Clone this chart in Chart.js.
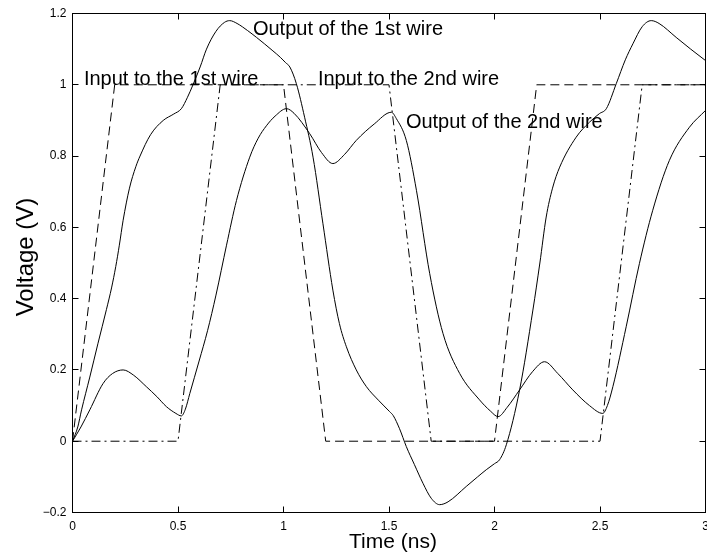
<!DOCTYPE html>
<html>
<head>
<meta charset="utf-8">
<title>Wire voltages</title>
<script src="https://cdn.jsdelivr.net/npm/chart.js@4.4.1/dist/chart.umd.min.js"></script>
<style>
  html, body { margin: 0; padding: 0; background: #fff; }
  #wrap { width: 707px; height: 557px; }
</style>
</head>
<body>
<div id="wrap"><canvas id="voltChart"></canvas></div>
<script>
// input pulses (trapezoids)
const input1Time = [0, 0.2, 1.0, 1.2, 2.0, 2.2, 3.0];
const input1Volt = [0, 1, 1, 0, 0, 1, 1];
const input2Time = [0, 0.5, 0.7, 1.5, 1.7, 2.5, 2.7, 3.0];
const input2Volt = [0, 0, 1, 1, 0, 0, 1, 1];

// wire outputs
const output1Time = [0, 0.025, 0.043, 0.082, 0.121, 0.161, 0.185, 0.205, 0.222, 0.24, 0.27, 0.3, 0.32, 0.37, 0.43, 0.48, 0.516,
  0.545, 0.571, 0.605, 0.635, 0.68, 0.72, 0.745, 0.78, 0.83, 0.872, 0.95, 0.985, 1.01, 1.03, 1.061,
  1.1, 1.14, 1.187, 1.234, 1.265, 1.298, 1.345, 1.393, 1.45, 1.503, 1.52, 1.55, 1.582, 1.62, 1.661,
  1.7, 1.74, 1.78, 1.866, 1.92, 1.961, 2.0, 2.024, 2.056, 2.119, 2.182, 2.215, 2.245, 2.275, 2.309,
  2.387, 2.45, 2.497, 2.53, 2.577, 2.62, 2.656, 2.7, 2.743, 2.78, 2.861, 2.93, 3.0];
const output1Volt = [0, 0.04, 0.088, 0.18, 0.275, 0.37, 0.43, 0.49, 0.55, 0.62, 0.71, 0.77, 0.8, 0.86, 0.9, 0.918, 0.933,
  0.965, 1.0, 1.05, 1.1, 1.15, 1.175, 1.18, 1.172, 1.152, 1.133, 1.095, 1.077, 1.062, 1.05, 1.003,
  0.909, 0.797, 0.61, 0.424, 0.33, 0.265, 0.2, 0.153, 0.115, 0.083, 0.072, 0.035, -0.015, -0.065, -0.118,
  -0.16, -0.178, -0.17, -0.127, -0.1, -0.08, -0.063, -0.052, -0.01, 0.144, 0.368, 0.5, 0.629, 0.71, 0.769,
  0.853, 0.895, 0.919, 0.933, 1.003, 1.07, 1.115, 1.163, 1.18, 1.172, 1.133, 1.1, 1.068];

const output2Time = [0, 0.04, 0.082, 0.145, 0.19, 0.24, 0.29, 0.35, 0.4, 0.445, 0.49, 0.516, 0.535,
  0.556, 0.6, 0.64, 0.68, 0.73, 0.777, 0.84, 0.88, 0.919, 0.96, 1.014, 1.05, 1.124, 1.18, 1.234,
  1.29, 1.345, 1.43, 1.511, 1.535, 1.582, 1.63, 1.693, 1.756, 1.835, 1.929, 1.98, 2.017, 2.06, 2.119,
  2.18, 2.237, 2.3, 2.371, 2.45, 2.513, 2.535, 2.561, 2.624, 2.687, 2.75, 2.829, 2.924, 3.0];
const output2Volt = [0, 0.04, 0.088, 0.162, 0.19, 0.2, 0.185, 0.153, 0.125, 0.097, 0.078, 0.071, 0.09,
  0.134, 0.225, 0.31, 0.41, 0.55, 0.675, 0.797, 0.85, 0.885, 0.912, 0.933, 0.92, 0.863, 0.81, 0.779,
  0.805, 0.844, 0.89, 0.923, 0.905, 0.844, 0.704, 0.47, 0.302, 0.19, 0.116, 0.085, 0.069, 0.095, 0.144,
  0.195, 0.223, 0.19, 0.144, 0.1, 0.078, 0.1, 0.153, 0.321, 0.499, 0.648, 0.788, 0.881, 0.928];

const xTicks = [0, 0.5, 1, 1.5, 2, 2.5, 3];
const xTickLabels = ['0', '0.5', '1', '1.5', '2', '2.5', '3'];
const yTicks = [-0.2, 0, 0.2, 0.4, 0.6, 0.8, 1, 1.2];
const yTickLabels = ['\u22120.2', '0', '0.2', '0.4', '0.6', '0.8', '1', '1.2'];

const notes = [
  { text: 'Output of the 1st wire', t: 0.855, v: 1.14 },
  { text: 'Input to the 1st wire', t: 0.054, v: 1.0 },
  { text: 'Input to the 2nd wire', t: 1.163, v: 1.0 },
  { text: 'Output of the 2nd wire', t: 1.58, v: 0.878 }
];

const FONT = '"Liberation Sans", Arial, Helvetica, sans-serif';
const toPoints = (ts, vs) => ts.map((t, i) => ({ x: t, y: vs[i] }));

// MATLAB-style box with inward ticks, drawn by hand
const boxAxes = {
  id: 'boxAxes',
  afterDatasetsDraw(chart) {
    const { ctx, chartArea: a, scales: { x, y } } = chart;
    ctx.save();
    ctx.strokeStyle = '#000';
    ctx.lineWidth = 1;
    ctx.setLineDash([]);
    ctx.strokeRect(a.left, a.top, a.right - a.left, a.bottom - a.top);

    ctx.beginPath();
    xTicks.forEach(v => {
      const px = Math.round(x.getPixelForValue(v) - 0.5) + 0.5;
      ctx.moveTo(px, a.bottom); ctx.lineTo(px, a.bottom - 6);
      ctx.moveTo(px, a.top); ctx.lineTo(px, a.top + 6);
    });
    yTicks.forEach(v => {
      const py = Math.round(y.getPixelForValue(v) - 0.5) + 0.5;
      ctx.moveTo(a.left, py); ctx.lineTo(a.left + 6, py);
      ctx.moveTo(a.right, py); ctx.lineTo(a.right - 6, py);
    });
    ctx.stroke();

    ctx.fillStyle = '#000';
    ctx.font = '12px ' + FONT;
    ctx.textAlign = 'center';
    ctx.textBaseline = 'alphabetic';
    xTicks.forEach((v, i) => ctx.fillText(xTickLabels[i], x.getPixelForValue(v), a.bottom + 17));
    ctx.textAlign = 'right';
    ctx.textBaseline = 'middle';
    yTicks.forEach((v, i) => ctx.fillText(yTickLabels[i], a.left - 6, y.getPixelForValue(v)));

    // axis titles
    ctx.font = '21px ' + FONT;
    ctx.textAlign = 'center';
    ctx.textBaseline = 'alphabetic';
    ctx.fillText('Time (ns)', 393, 548);
    ctx.save();
    ctx.translate(33, 257);
    ctx.rotate(-Math.PI / 2);
    ctx.font = '24px ' + FONT;
    ctx.fillText('Voltage (V)', 0, 0);
    ctx.restore();

    // curve annotations
    ctx.font = '20px ' + FONT;
    ctx.textAlign = 'left';
    notes.forEach(n => ctx.fillText(n.text, x.getPixelForValue(n.t), y.getPixelForValue(n.v)));
    ctx.restore();
  }
};

const solid = { borderColor: '#000', borderWidth: 1, pointRadius: 0, cubicInterpolationMode: 'monotone' };
const straight = { borderColor: '#000', borderWidth: 1, pointRadius: 0, tension: 0 };

new Chart(document.getElementById('voltChart'), {
  type: 'line',
  data: {
    datasets: [
      { label: 'Input to the 1st wire', data: toPoints(input1Time, input1Volt), ...straight, borderDash: [9, 5] },
      { label: 'Input to the 2nd wire', data: toPoints(input2Time, input2Volt), ...straight, borderDash: [9, 4, 2, 4] },
      { label: 'Output of the 1st wire', data: toPoints(output1Time, output1Volt), ...solid },
      { label: 'Output of the 2nd wire', data: toPoints(output2Time, output2Volt), ...solid }
    ]
  },
  options: {
    responsive: true,
    maintainAspectRatio: false,
    animation: false,
    layout: { padding: { left: 72.5, top: 13.5, right: 1.5, bottom: 44.5 } },
    plugins: {
      legend: { display: false },
      tooltip: { enabled: false }
    },
    scales: {
      x: { type: 'linear', min: 0, max: 3, display: false },
      y: { type: 'linear', min: -0.2, max: 1.2, display: false }
    }
  },
  plugins: [boxAxes]
});
</script>
</body>
</html>
